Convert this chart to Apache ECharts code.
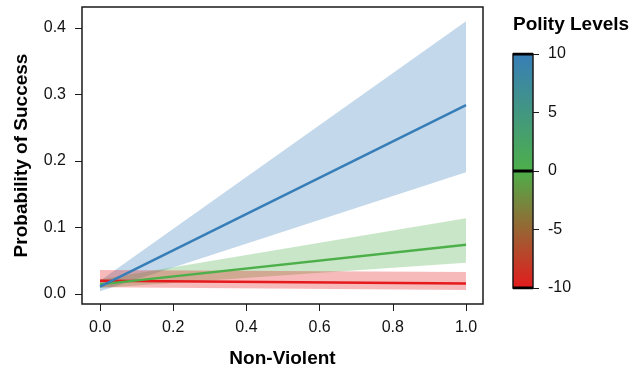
<!DOCTYPE html>
<html>
<head>
<meta charset="utf-8">
<script src="https://cdn.jsdelivr.net/npm/echarts@6/dist/echarts.min.js"></script>
<style>
  html, body { margin: 0; padding: 0; background: #fff; }
  #main { width: 631px; height: 368px; }
</style>
</head>
<body>
<div id="main"></div>
<script>
// Non-Violent is 0/1, one line per polity level
var nonViolent = [0, 1];
var xTicks = [0, 0.2, 0.4, 0.6, 0.8, 1.0];
var yTicks = [0, 0.1, 0.2, 0.3, 0.4];

var blueFit = [0.011, 0.284];
var blueLow = [0.004, 0.183];
var blueHigh = [0.020, 0.410];

var greenFit = [0.0145, 0.074];
var greenLow = [0.009, 0.047];
var greenHigh = [0.022, 0.114];

var redFit = [0.020, 0.016];
var redLow = [0.010, 0.006];
var redHigh = [0.036, 0.033];

var polityTicks = [-10, -5, 0, 5, 10];
var polityShown = [-10, 0, 10];

var FONT = 'Liberation Sans, Arial, sans-serif';
var BLUE = '#377EB8', GREEN = '#4DAF4A', RED = '#E41A1C';

function pairs(vals) {
  return nonViolent.map(function (x, i) { return [x, vals[i]]; });
}
// confidence band as one polygon, corners through the axis scales
function ribbon(low, high, color) {
  return {
    type: 'custom', silent: true,
    data: [[nonViolent[0], low[0]]],
    renderItem: function (params, api) {
      var pts = [];
      nonViolent.forEach(function (x, i) { pts.push(api.coord([x, low[i]])); });
      for (var i = nonViolent.length - 1; i >= 0; i--) pts.push(api.coord([nonViolent[i], high[i]]));
      return { type: 'polygon', shape: { points: pts },
        style: { fill: color, opacity: 0.3 } };
    }
  };
}
function fitLine(vals, color) {
  return { type: 'line', data: pairs(vals), symbol: 'none', silent: true,
    lineStyle: { color: color, width: 2.5 } };
}

var series = [
  ribbon(blueLow, blueHigh, BLUE),
  ribbon(greenLow, greenHigh, GREEN),
  ribbon(redLow, redHigh, RED),
  fitLine(redFit, RED), fitLine(greenFit, GREEN), fitLine(blueFit, BLUE)
];

// black marks on the colour bar at the plotted levels
polityShown.forEach(function (lv) {
  series.push({ type: 'line', xAxisIndex: 1, yAxisIndex: 1, symbol: 'none', silent: true,
    data: [[0, lv], [1, lv]], lineStyle: { color: '#000', width: 3 } });
});

var chart = echarts.init(document.getElementById('main'));
chart.setOption({
  animation: false,
  backgroundColor: '#fff',
  textStyle: { fontFamily: FONT },
  title: {
    text: 'Polity Levels', left: 513, top: 15, padding: 0,
    textStyle: { fontFamily: FONT, fontSize: 19, fontWeight: 'bold', color: '#000' }
  },
  grid: [
    { left: 82, top: 7, right: 148, bottom: 64, show: true, borderColor: '#1a1a1a',
      borderWidth: 1.5, backgroundColor: 'transparent', outerBoundsMode: 'none' },
    { left: 513, top: 54, width: 20, height: 234, show: true, borderColor: '#1a1a1a',
      borderWidth: 1.5, outerBoundsMode: 'none',
      backgroundColor: { type: 'linear', x: 0, y: 0, x2: 0, y2: 1, colorStops: [
        { offset: 0, color: BLUE }, { offset: 0.5, color: GREEN }, { offset: 1, color: RED }] } }
  ],
  xAxis: [
    { type: 'value', gridIndex: 0, min: -0.0492, max: 1.0464,
      name: 'Non-Violent', nameLocation: 'middle', nameGap: 45,
      nameTextStyle: { fontFamily: FONT, fontSize: 19, fontWeight: 'bold', color: '#000' },
      axisLine: { show: false, onZero: false }, splitLine: { show: false },
      axisTick: { show: true, customValues: xTicks, length: 7, lineStyle: { color: '#1a1a1a', width: 1 } },
      axisLabel: { customValues: xTicks, margin: 16, fontSize: 16, color: '#111',
        formatter: function (v) { return v.toFixed(1); } } },
    { type: 'value', gridIndex: 1, min: 0, max: 1, show: false }
  ],
  yAxis: [
    { type: 'value', gridIndex: 0, min: -0.0150, max: 0.4316,
      name: 'Probability of Success', nameLocation: 'middle', nameGap: 51,
      nameTextStyle: { fontFamily: FONT, fontSize: 19, fontWeight: 'bold', color: '#000' },
      axisLine: { show: false, onZero: false }, splitLine: { show: false },
      axisTick: { show: true, customValues: yTicks, length: 7, lineStyle: { color: '#1a1a1a', width: 1 } },
      axisLabel: { customValues: yTicks, margin: 16, fontSize: 16, color: '#111',
        formatter: function (v) { return v.toFixed(1); } } },
    { type: 'value', gridIndex: 1, min: -10, max: 10, position: 'right',
      axisLine: { show: false, onZero: false }, splitLine: { show: false },
      axisTick: { show: true, customValues: polityTicks, length: 6, lineStyle: { color: '#1a1a1a', width: 1 } },
      axisLabel: { customValues: polityTicks, margin: 15, fontSize: 16, color: '#111' } }
  ],
  series: series
});
</script>
</body>
</html>
